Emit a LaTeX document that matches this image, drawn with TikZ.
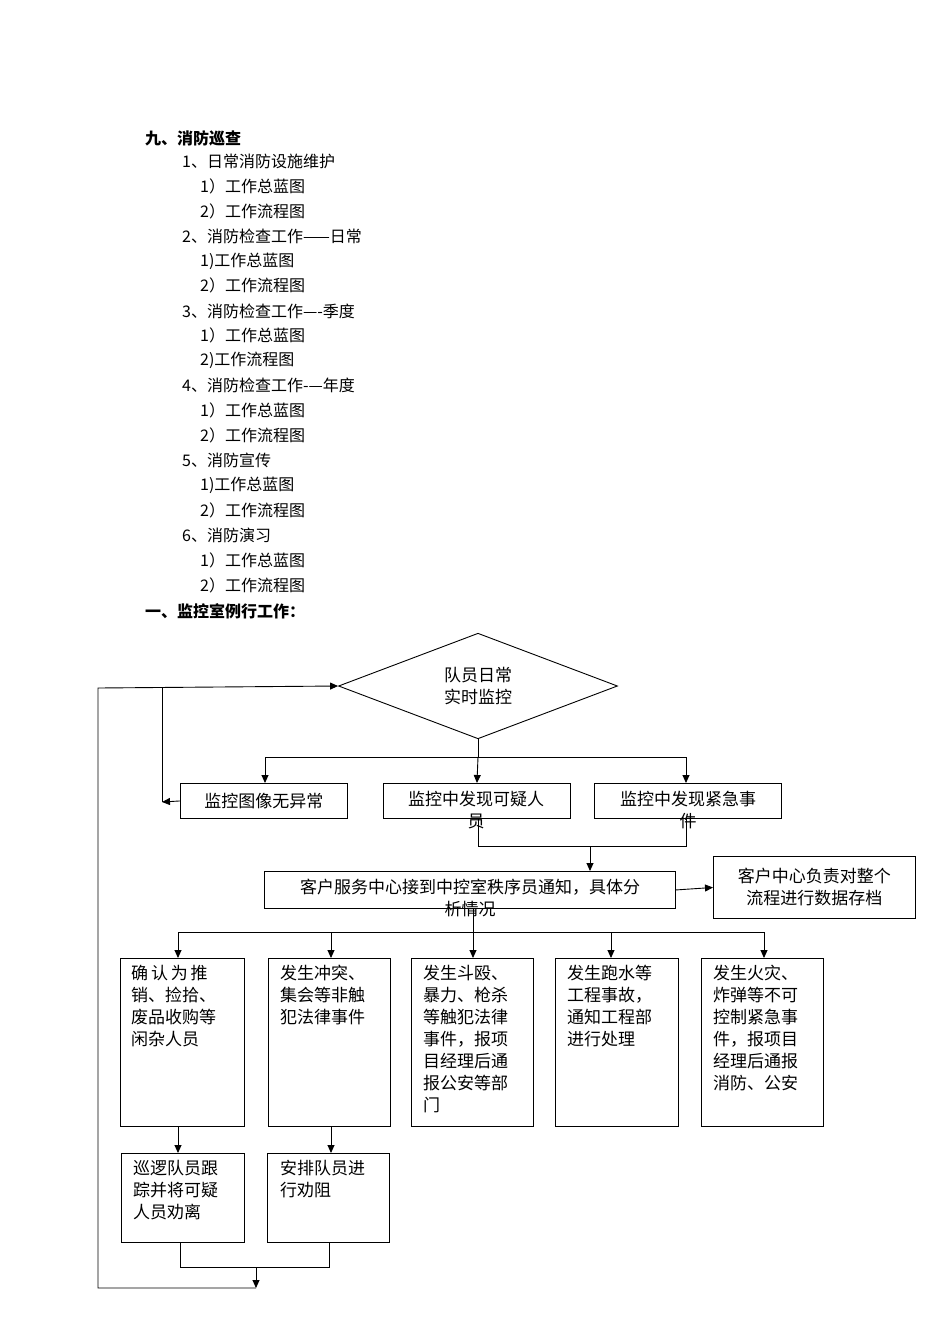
\documentclass[tikz,border=0pt]{standalone}
\usepackage{fontspec}
\setmainfont{Noto Sans CJK SC}
\usetikzlibrary{shapes.geometric,arrows.meta}
\begin{document}
\begin{tikzpicture}[x=1pt,y=-1pt,
  box/.style={draw,line width=0.9pt,anchor=north west,inner sep=0pt},
  txt/.style={font=\fontsize{17}{22}\selectfont,inner sep=0pt},
  hd/.style={font=\fontsize{16}{20}\selectfont,anchor=west,inner sep=0pt},
  arr/.style={-{Triangle[length=8pt,width=7pt]},line width=0.9pt},
  ln/.style={line width=0.9pt}]
\useasboundingbox (0,0) rectangle (950,1344);
% header
\node[hd,font=\fontsize{16}{20}\selectfont\bfseries] (h0) at (145,138) {九、消防巡查};
\node[hd] (h1) at (182,161) {1、日常消防设施维护};
\node[hd] (h2) at (200,186) {1）工作总蓝图};
\node[hd] (h3) at (200,211) {2）工作流程图};
\node[hd] (h4) at (182,236) {2、消防检查工作——日常};
\node[hd] (h5) at (200,261) {1)工作总蓝图};
\node[hd] (h6) at (200,285) {2）工作流程图};
\node[hd] (h7) at (182,311) {3、消防检查工作—-季度};
\node[hd] (h8) at (200,335) {1）工作总蓝图};
\node[hd] (h9) at (200,360) {2)工作流程图};
\node[hd] (h10) at (182,385) {4、消防检查工作-—年度};
\node[hd] (h11) at (200,410) {1）工作总蓝图};
\node[hd] (h12) at (200,435) {2）工作流程图};
\node[hd] (h13) at (182,460) {5、消防宣传};
\node[hd] (h14) at (200,485) {1)工作总蓝图};
\node[hd] (h15) at (200,510) {2）工作流程图};
\node[hd] (h16) at (182,535) {6、消防演习};
\node[hd] (h17) at (200,560) {1）工作总蓝图};
\node[hd] (h18) at (200,585) {2）工作流程图};
\node[hd,font=\fontsize{16}{20}\selectfont\bfseries] (h19) at (145,611) {一、监控室例行工作：};
% diamond
\node[draw,diamond,line width=0.9pt,minimum width=279pt,minimum height=101pt,inner sep=0pt,txt,align=center] (dia) at (478,686) {队员日常\\实时监控};
% row1
\node[box,minimum width=167pt,minimum height=35pt] (A) at (180,783) {};
\node[txt] (At) at (A.center) {监控图像无异常};
\node[box,minimum width=187pt,minimum height=35pt] (B) at (383,783) {};
\node[txt,align=center,anchor=north] (Bt) at (476,791) {监控中发现可疑人\\员};
\node[box,minimum width=187pt,minimum height=35pt] (C) at (594,783) {};
\node[txt,align=center,anchor=north] (Ct) at (688,791) {监控中发现紧急事\\件};
% row2
\node[box,minimum width=411pt,minimum height=37pt] (D) at (264,871) {};
\node[txt,align=center,anchor=north] (Dt) at (470,879) {客户服务中心接到中控室秩序员通知，具体分\\析情况};
\node[box,minimum width=202pt,minimum height=62pt] (E) at (713,856) {};
\node[txt,align=center] (Et) at (E.center) {客户中心负责对整个\\流程进行数据存档};
% row3
\foreach \n/\x/\w in {F/120/124,G/268/122,H/411/122,I/555/123,J/701/122}
  \node[box,minimum width=\w pt,minimum height=168pt] (\n) at (\x,958) {};
\node[txt,align=left,anchor=north west] (Ft) at (131,965) {确\,认\,为\,推\\销、捡拾、\\废品收购等\\闲杂人员};
\node[txt,align=left,anchor=north west] (Gt) at (280,965) {发生冲突、\\集会等非触\\犯法律事件};
\node[txt,align=left,anchor=north west] (Ht) at (423,965) {发生斗殴、\\暴力、枪杀\\等触犯法律\\事件，报项\\目经理后通\\报公安等部\\门};
\node[txt,align=left,anchor=north west] (It) at (567,965) {发生跑水等\\工程事故，\\通知工程部\\进行处理};
\node[txt,align=left,anchor=north west] (Jt) at (713,965) {发生火灾、\\炸弹等不可\\控制紧急事\\件，报项目\\经理后通报\\消防、公安};
% row4
\node[box,minimum width=123pt,minimum height=89pt] (K) at (121,1153) {};
\node[txt,align=left,anchor=north west] (Kt) at (133,1160) {巡逻队员跟\\踪并将可疑\\人员劝离};
\node[box,minimum width=122pt,minimum height=89pt] (L) at (267,1153) {};
\node[txt,align=left,anchor=north west] (Lt) at (280,1160) {安排队员进\\行劝阻};
% coordinates
\coordinate (m1) at (478,757);
\coordinate (m2) at (590,846);
\coordinate (m3) at (473,932);
\coordinate (m4) at (256,1267);
\coordinate (m5) at (256,1288);
% connectors
\draw[ln] (dia.south) -- (m1);
\draw[ln] (265,757) -- (686,757);
\draw[arr] (265,757) -- (265,783);
\draw[arr] (m1) -- (B.north);
\draw[arr] (686,757) -- (686,783);
\draw[ln] (478,818) -- (478,846) -- (686,846) -- (686,818);
\draw[arr] (m2) -- (590,871);
\draw[arr] (D.east) -- (E.west);
\draw[ln] (473,908) -- (m3);
\draw[ln] (178,932) -- (764,932);
\foreach \x in {178,331,473,611,764} \draw[arr] (\x,932) -- (\x,958);
\draw[arr] (178,1126) -- (178,1153);
\draw[arr] (331,1126) -- (331,1153);
\draw[ln] (180,1242) -- (180,1267) -- (329,1267) -- (329,1242);
\draw[arr] (m4) -- (m5);
\draw[arr] (m5) -- (98,1288) -- (98,688) -- (dia.west);
\draw[ln] (162,688) -- (162,802);
\draw[arr] (A.west) -- (162,802);
\end{tikzpicture}
\end{document}
